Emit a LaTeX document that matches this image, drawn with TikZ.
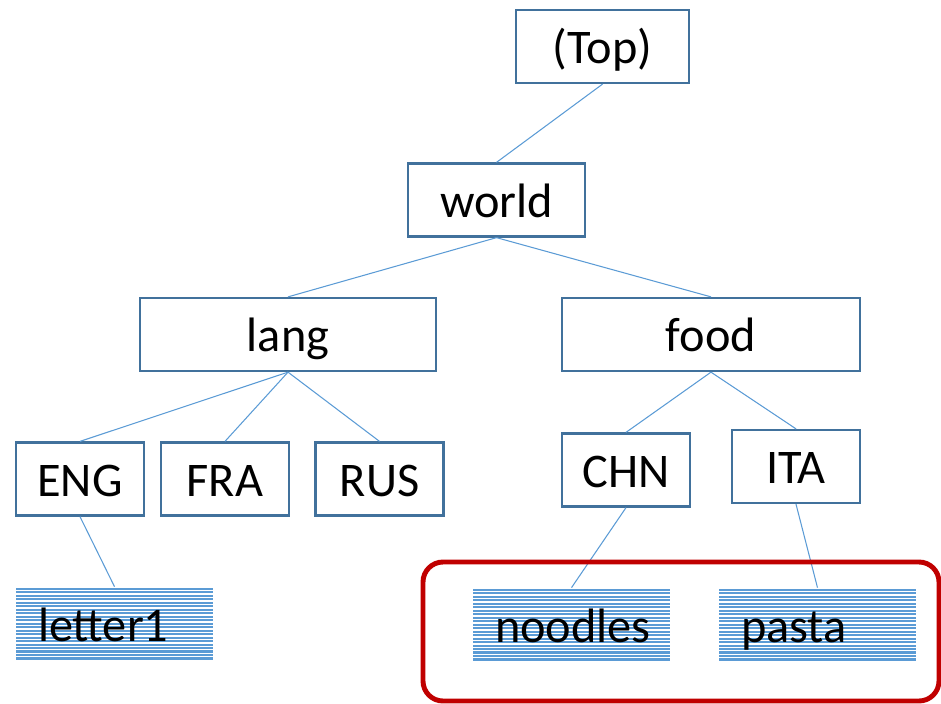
\documentclass[tikz,border=0pt]{standalone}
\usepackage{fontspec}
\setmainfont{Carlito}
\definecolor{boxblue}{HTML}{41719C}
\definecolor{linkblue}{HTML}{5B9BD5}
\definecolor{groupred}{HTML}{C00000}
\usetikzlibrary{positioning}

\begin{document}
\begin{tikzpicture}[
  x=0.02cm,y=-0.02cm,
  font=\fontsize{27.5}{32}\selectfont,
  box/.style={draw=boxblue,fill=white,line width=1.3pt,inner sep=0pt,
    minimum height=1.46cm,text height=24.5pt,text depth=5pt},
  leaf/.style={inner xsep=0.44cm,inner ysep=0pt,text width=3.06cm,align=left,
    minimum height=1.46cm,text height=25.5pt,text depth=4.5pt,
    path picture={\foreach \k in {0,...,20}
      \draw[linkblue,line width=1.15pt]
        ([yshift=-0.03cm-\k*0.07cm]path picture bounding box.north west) --
        ([yshift=-0.03cm-\k*0.07cm]path picture bounding box.north east);}},
  link/.style={draw=linkblue,line width=0.6pt}
]
\useasboundingbox (0,0) rectangle (941,704);
\node[box,minimum width=3.46cm] (top) at (602.5,46.5) {(Top)};
\node[box,minimum width=3.54cm] (world) at (496.5,200) {world};
\node[box,minimum width=5.92cm] (lang) at (288,334.5) {lang};
\node[box,minimum width=5.96cm] (food) at (711,334.5) {food};
\node[box,minimum width=2.56cm] (eng) at (80,479) {ENG};
\node[box,minimum width=2.56cm] (fra) at (225,479) {FRA};
\node[box,minimum width=2.56cm] (rus) at (379.5,479) {RUS};
\node[box,minimum width=2.56cm] (chn) at (626,470) {CHN};
\node[box,minimum width=2.56cm] (ita) at (796,466.5) {ITA};
\node[leaf] (letter) at (114.5,623.5) {letter1};
\node[leaf] (noodles) at (571.5,624.5) {noodles};
\node[leaf] (pasta) at (817.5,624.5) {pasta};
\draw[link] (top.south) -- (world.north);
\draw[link] (world.south) -- (lang.north);
\draw[link] (world.south) -- (food.north);
\draw[link] (lang.south) -- (eng.north);
\draw[link] (lang.south) -- (fra.north);
\draw[link] (lang.south) -- (rus.north);
\draw[link] (food.south) -- (chn.north);
\draw[link] (food.south) -- (ita.north);
\draw[link] (eng.south) -- (letter.north);
\draw[link] (chn.south) -- (noodles.north);
\draw[link] (ita.south) -- (pasta.north);
% group of selected leaves
\draw[groupred,line width=2.8pt,rounded corners=0.4cm] (423,562) rectangle (939,701);
\end{tikzpicture}
\end{document}
